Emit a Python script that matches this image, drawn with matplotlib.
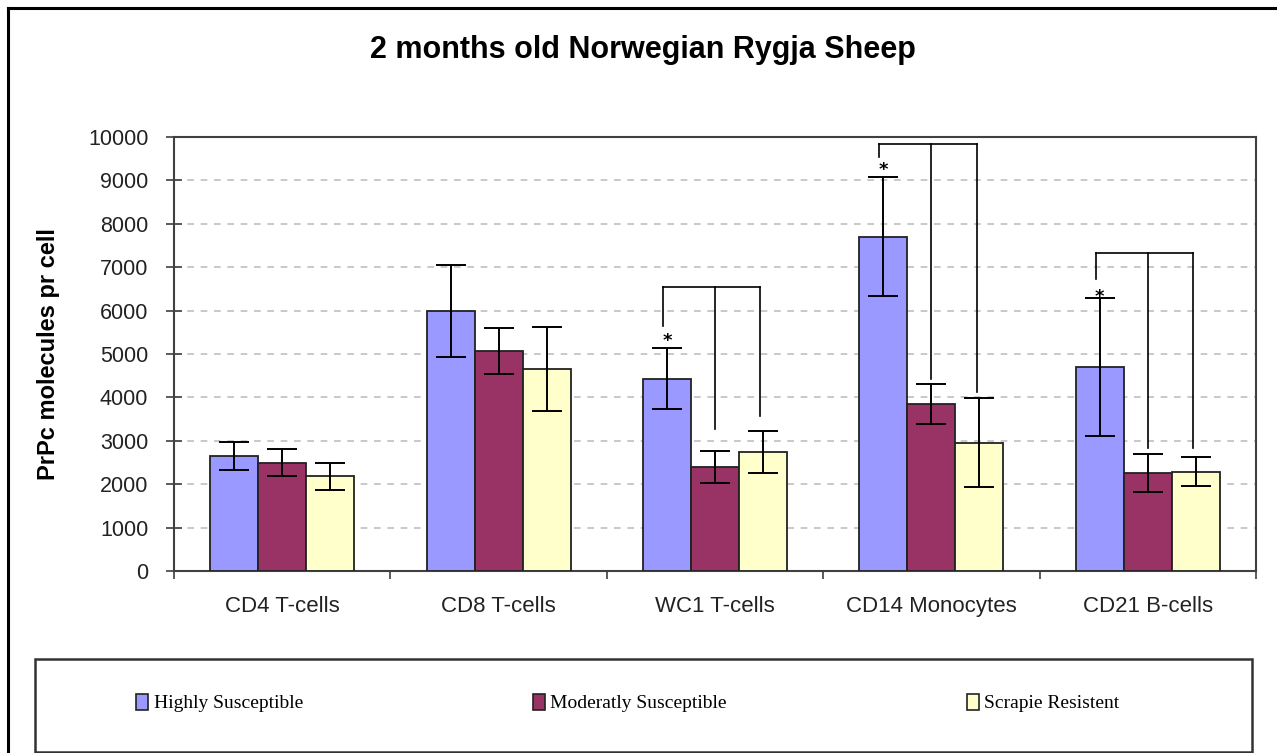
import matplotlib.pyplot as plt
from matplotlib.patches import Rectangle, Patch
from matplotlib.lines import Line2D
import numpy as np

categories = ["CD4 T-cells", "CD8 T-cells", "WC1 T-cells", "CD14 Monocytes", "CD21 B-cells"]
series = ["Highly Susceptible", "Moderatly Susceptible", "Scrapie Resistent"]
colors = ["#9999FF", "#993366", "#FFFFCC"]

highly = [2650, 5990, 4430, 7700, 4690]
highly_err = [330, 1050, 700, 1370, 1590]
moderatly = [2500, 5070, 2400, 3850, 2250]
moderatly_err = [300, 520, 370, 460, 440]
resistent = [2180, 4650, 2740, 2960, 2290]
resistent_err = [320, 970, 480, 1030, 340]

# significance brackets: category index, top, leg bottoms (HS, MS, SR), star y
brackets = [
    (2, 6550, (5640, 3270, 3580), 5300),
    (3, 9850, (9550, 4420, 4120), 9250),
    (4, 7320, (6720, 2830, 2830), 6320),
]

W, H = 1277, 753
fig = plt.figure(figsize=(W / 100, H / 100), dpi=100)
ax = fig.add_axes([174 / W, 1 - 571 / H, 1082 / W, 434 / H])

x = np.arange(len(categories)) + 0.5
bw = 0.222
vals = [highly, moderatly, resistent]
errs = [highly_err, moderatly_err, resistent_err]
for k in range(3):
    ax.bar(x + (k - 1) * bw, vals[k], bw, color=colors[k], edgecolor="#222222",
           linewidth=1.3, zorder=3)
    ax.errorbar(x + (k - 1) * bw, vals[k], yerr=errs[k], fmt="none", ecolor="black",
                elinewidth=1.4, capsize=11, capthick=1.4, zorder=4)

for ci, top, legs, star in brackets:
    xs = [x[ci] - bw - 0.018, x[ci], x[ci] + bw - 0.012]
    ax.plot([xs[0], xs[2]], [top, top], color="black", lw=1.2, zorder=5)
    for xx, yb in zip(xs, legs):
        ax.plot([xx, xx], [yb, top], color="black", lw=1.2, zorder=5)
    ax.text(x[ci] - bw, star, "*", ha="center", va="center", fontsize=13,
            fontweight="bold", zorder=6)

ax.set_xlim(0, 5)
ax.set_ylim(0, 10000)
ax.set_yticks(range(0, 10001, 1000))
ax.set_xticks(x)
ax.set_xticklabels(categories)
ax.set_xticks(np.arange(0, 6), minor=True)
ax.tick_params(axis="x", which="major", length=0, pad=18, labelsize=16, labelcolor="#222222")
ax.tick_params(axis="x", which="minor", length=6, direction="out", color="#404040", width=1.2)
ax.tick_params(axis="y", length=11, direction="inout", pad=13, labelsize=15.5,
               labelcolor="#222222", color="#404040", width=1.2)
for t in ax.get_xticklabels() + ax.get_yticklabels():
    t.set_fontfamily("Liberation Sans")
ax.yaxis.grid(True, linestyle=(0, (4, 4)), color="#c0c0c0", linewidth=1.2, zorder=0)
for s in ax.spines.values():
    s.set_color("#404040")
    s.set_linewidth(1.5)
ax.set_ylabel("PrPc molecules pr cell", fontsize=17, fontweight="bold",
              family="Liberation Sans", labelpad=20)

fig.text(643 / W, 1 - 50 / H, "2 months old Norwegian Rygja Sheep", ha="center",
         va="center", fontsize=22, fontweight="bold", family="Liberation Sans")

# figure frame (top and left)
fig.add_artist(Line2D([8 / W, 8 / W], [0, 1 - 8 / H], color="black", lw=2.2))
fig.add_artist(Line2D([8 / W, 1], [1 - 8 / H, 1 - 8 / H], color="black", lw=2.2))

# legend box
fig.add_artist(Rectangle((35 / W, 1 - 752 / H), (1252 - 35) / W, (752 - 659) / H,
                         transform=fig.transFigure, facecolor="white",
                         edgecolor="#333333", lw=1.8))
for k, xm in enumerate([136, 533, 967]):
    h = Patch(facecolor=colors[k], edgecolor="#222222", linewidth=1.2)
    leg = fig.legend([h], [series[k]], loc="center left",
                     bbox_to_anchor=(xm / W, 1 - 703 / H), frameon=False,
                     borderpad=0, borderaxespad=0, handlelength=0.6,
                     handleheight=0.9, handletextpad=0.3,
                     prop={"family": "Liberation Serif", "size": 14})

fig.savefig("out.png", dpi=100)
